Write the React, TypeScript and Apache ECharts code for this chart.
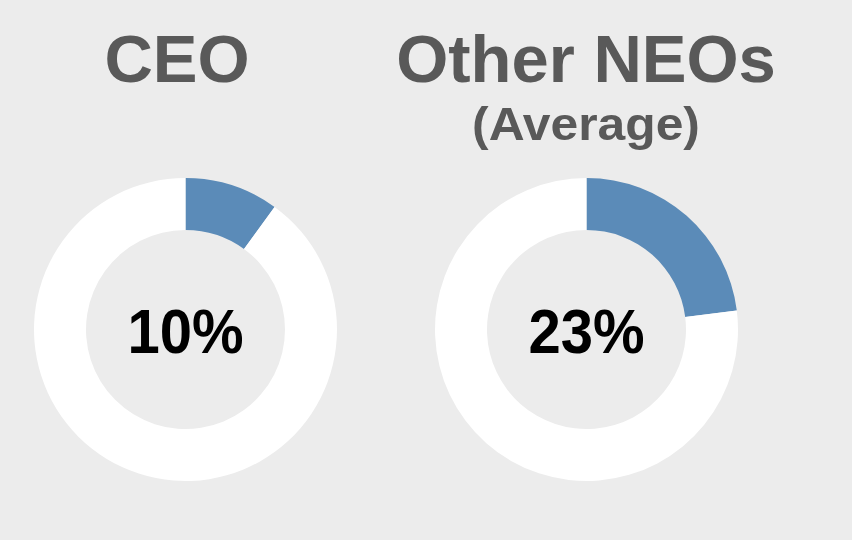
import React, { useEffect, useRef } from "react";
import * as echarts from "echarts";

const panelTitles = ["CEO", "Other NEOs"];
const panelSubtitles = ["", "(Average)"];
const sharePct = [10, 23];
const centersX = [185.5, 586.5];

const BLUE = "#5b8bb8";
const WHITE = "#ffffff";
const BG = "#ececec";
const GREY_TEXT = "#595959";
const FONT = "'Liberation Sans', Arial, Helvetica, sans-serif";

export default function App() {
  const ref = useRef<HTMLDivElement>(null);

  useEffect(() => {
    document.body.style.margin = "0";
    if (!ref.current) return;
    const chart = echarts.init(ref.current, undefined, { renderer: "svg" });

    const series = sharePct.map((v, i) => ({
      type: "pie",
      center: [centersX[i], 329.5],
      radius: [99.5, 151.5],
      startAngle: 90,
      clockwise: true,
      silent: true,
      label: { show: false },
      labelLine: { show: false },
      itemStyle: { borderWidth: 0 },
      emphasis: { disabled: true },
      data: [
        { value: v, name: "share", itemStyle: { color: BLUE } },
        { value: 100 - v, name: "rest", itemStyle: { color: WHITE } },
      ],
    }));

    const texts: any[] = [];
    panelTitles.forEach((t, i) => {
      texts.push({
        type: "text",
        silent: true,
        x: i === 0 ? 177 : 586,
        y: 58,
        style: {
          x: 0,
          y: 0,
          text: t,
          fill: GREY_TEXT,
          font: `bold 67px ${FONT}`,
          textAlign: "center",
          textVerticalAlign: "middle",
        },
      });
      if (panelSubtitles[i]) {
        texts.push({
          type: "text",
          silent: true,
          x: 586,
          y: 124,
          scaleX: 1.06,
          style: {
            x: 0,
            y: 0,
            text: panelSubtitles[i],
            fill: GREY_TEXT,
            font: `bold 47px ${FONT}`,
            textAlign: "center",
            textVerticalAlign: "middle",
          },
        });
      }
      texts.push({
        type: "text",
        silent: true,
        z: 100,
        x: centersX[i],
        y: 331,
        scaleY: 1.08,
        style: {
          x: 0,
          y: 0,
          text: `${sharePct[i]}%`,
          fill: "#000000",
          font: `bold 58px ${FONT}`,
          textAlign: "center",
          textVerticalAlign: "middle",
        },
      });
    });

    chart.setOption({
      animation: false,
      backgroundColor: BG,
      series,
      graphic: texts,
    });

    return () => chart.dispose();
  }, []);

  return <div ref={ref} style={{ width: 852, height: 540 }} />;
}
